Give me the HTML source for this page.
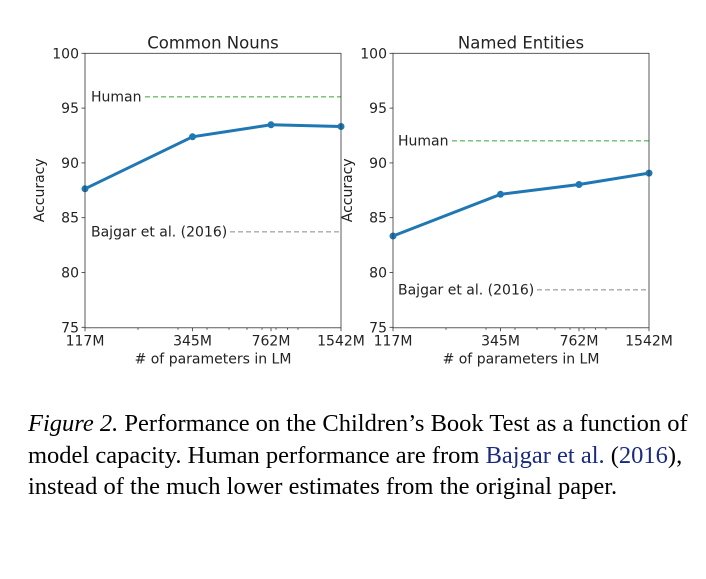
<!DOCTYPE html>
<html><head><meta charset="utf-8"><style>
body{margin:0;background:#fff;width:706px;height:579px;overflow:hidden}
.cap{position:absolute;left:28px;top:408px;font-family:"Liberation Serif",serif;font-size:24.5px;line-height:31.5px;color:#000;white-space:nowrap}
.cap a{color:#1a2a80}
</style></head><body>
<svg width="706" height="579" style="position:absolute;left:0;top:0" font-family="DejaVu Sans, sans-serif" fill="#222">
<defs>
<g id="xt" stroke="#333" stroke-width="0.8">
<line x1="0" y1="274.5" x2="0" y2="278"/><line x1="107.5" y1="274.5" x2="107.5" y2="278"/><line x1="186" y1="274.5" x2="186" y2="278"/><line x1="256" y1="274.5" x2="256" y2="278"/>
<line x1="53" y1="274.5" x2="53" y2="276.5"/><line x1="93" y1="274.5" x2="93" y2="276.5"/><line x1="122" y1="274.5" x2="122" y2="276.5"/><line x1="144" y1="274.5" x2="144" y2="276.5"/><line x1="162" y1="274.5" x2="162" y2="276.5"/><line x1="177" y1="274.5" x2="177" y2="276.5"/><line x1="191" y1="274.5" x2="191" y2="276.5"/><line x1="202.5" y1="274.5" x2="202.5" y2="276.5"/><line x1="213" y1="274.5" x2="213" y2="276.5"/>
</g>
<g id="yt" stroke="#333" stroke-width="0.8">
<line x1="-3.5" y1="0" x2="0" y2="0"/><line x1="-3.5" y1="54.8" x2="0" y2="54.8"/><line x1="-3.5" y1="109.6" x2="0" y2="109.6"/><line x1="-3.5" y1="164.4" x2="0" y2="164.4"/><line x1="-3.5" y1="219.2" x2="0" y2="219.2"/><line x1="-3.5" y1="274" x2="0" y2="274"/>
</g>
<g id="yl" font-size="14" text-anchor="end">
<text x="-6" y="5">100</text><text x="-6" y="59.8">95</text><text x="-6" y="114.6">90</text><text x="-6" y="169.4">85</text><text x="-6" y="224.2">80</text><text x="-6" y="279">75</text>
</g>
<g id="xl" font-size="14" text-anchor="middle">
<text x="0" y="292">117M</text><text x="107.5" y="292">345M</text><text x="186" y="292">762M</text><text x="256" y="292">1542M</text>
<text x="128" y="310">#&#160;of parameters in LM</text>
</g>
</defs>

<g transform="translate(85,53.3)">
<text x="128" y="-5" font-size="16.5" text-anchor="middle">Common Nouns</text>
<line x1="60" y1="43.5" x2="256" y2="43.5" stroke="#6cbf6c" stroke-width="1.3" stroke-dasharray="5,3"/>
<text x="6" y="48" font-size="14">Human</text>
<line x1="145" y1="178.5" x2="256" y2="178.5" stroke="#aaa" stroke-width="1.3" stroke-dasharray="5,3"/>
<text x="6" y="183" font-size="14">Bajgar et al. (2016)</text>
<polyline points="0,135.5 107.5,83.5 186,71.5 256,73.2" fill="none" stroke="#1f77b4" stroke-width="3"/>
<g fill="#1f77b4"><circle cx="0" cy="135.5" r="3.5"/><circle cx="107.5" cy="83.5" r="3.5"/><circle cx="186" cy="71.5" r="3.5"/><circle cx="256" cy="73.2" r="3.5"/></g>
<rect x="0" y="0" width="256" height="274.5" fill="none" stroke="#333" stroke-width="0.8"/>
<use href="#xt"/><use href="#yt"/><use href="#yl"/><use href="#xl"/>
<text transform="translate(-41,137) rotate(-90)" font-size="14" text-anchor="middle">Accuracy</text>
</g>

<g transform="translate(393,53.3)">
<text x="128" y="-5" font-size="16.5" text-anchor="middle">Named Entities</text>
<line x1="59" y1="87.5" x2="256" y2="87.5" stroke="#6cbf6c" stroke-width="1.3" stroke-dasharray="5,3"/>
<text x="5" y="92" font-size="14">Human</text>
<line x1="144" y1="236.5" x2="256" y2="236.5" stroke="#aaa" stroke-width="1.3" stroke-dasharray="5,3"/>
<text x="5" y="241" font-size="14">Bajgar et al. (2016)</text>
<polyline points="0,182.7 107.5,141 186,131.2 256,119.8" fill="none" stroke="#1f77b4" stroke-width="3"/>
<g fill="#1f77b4"><circle cx="0" cy="182.7" r="3.5"/><circle cx="107.5" cy="141" r="3.5"/><circle cx="186" cy="131.2" r="3.5"/><circle cx="256" cy="119.8" r="3.5"/></g>
<rect x="0" y="0" width="256" height="274.5" fill="none" stroke="#333" stroke-width="0.8"/>
<use href="#xt"/><use href="#yt"/><use href="#yl"/><use href="#xl"/>
<text transform="translate(-41,137) rotate(-90)" font-size="14" text-anchor="middle">Accuracy</text>
</g>
</svg>
<div class="cap"><i>Figure 2.</i> Performance on the Children’s Book Test as a function of<br>model capacity. Human performance are from <a>Bajgar et al.</a> (<a>2016</a>),<br>instead of the much lower estimates from the original paper.</div>
</body></html>
